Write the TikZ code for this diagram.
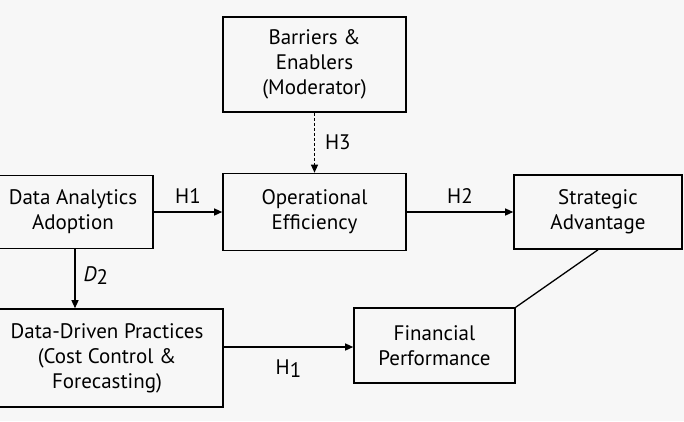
\documentclass[tikz,border=0pt]{standalone}
\usepackage{fontspec}
\setmainfont{PT Sans}
\usetikzlibrary{arrows.meta}
\definecolor{bg}{HTML}{F7F7F7}
\begin{document}
\begin{tikzpicture}[x=1pt,y=-1pt,
  box/.style={draw=black,line width=1.6pt,fill=bg,align=center,inner sep=0pt,
    font=\fontsize{21}{25}\selectfont},
  conn/.style={line width=1.3pt,-{Triangle[length=8pt,width=7pt]}},
  lbl/.style={font=\fontsize{21}{22}\selectfont,inner sep=0pt}]
\useasboundingbox (0,0) rectangle (684,421);
\fill[bg] (0,0) rectangle (684,421);
\begin{scope}
\clip (0,0) rectangle (684,421);
\node[box,minimum width=183pt,minimum height=95pt] (bar) at (314.5,64.5) {Barriers \&\\Enablers\\(Moderator)};
\node[box,minimum width=183pt,minimum height=77pt] (ope) at (314.5,212) {Operational\\Efficiency};
\node[box,minimum width=168pt,minimum height=74pt] (str) at (598,212) {Strategic\\Advantage};
\node[box,minimum width=161pt,minimum height=75pt] (fin) at (434.5,345.5) {Financial\\Performance};
\node[box,minimum width=160pt,minimum height=73pt] (daa) at (73,212) {Data Analytics\\Adoption};
\node[box,minimum width=240pt,minimum height=98pt] (ddp) at (103,358) {};
\node[font=\fontsize{21}{25}\selectfont,align=center,inner sep=0pt] (ddpt) at (107,358) {Data-Driven Practices\\(Cost Control \&\\Forecasting)};
\end{scope}
\draw[conn] (daa.east) -- node[lbl,above=8pt]{H1} (ope.west);
\draw[conn] (ope.east) -- node[lbl,above=8pt]{H2} (str.west);
\draw[conn,dash pattern=on 3pt off 2pt,line width=1.1pt] (bar.south) -- node[lbl,right=10pt]{H3} (ope.north);
\draw[conn] (daa.south -| 75,0) -- node[lbl,right=8pt,pos=0.45]{\textit{D}\raisebox{-3pt}{2}} (ddp.north -| 75,0);
\draw[conn] (ddp.east |- 0,347) -- node[lbl,below=12pt]{H\raisebox{-3pt}{1}} (fin.west |- 0,347);
\draw[line width=1.3pt] (str.south -| 598,0) -- (fin.north east);
\end{tikzpicture}
\end{document}
